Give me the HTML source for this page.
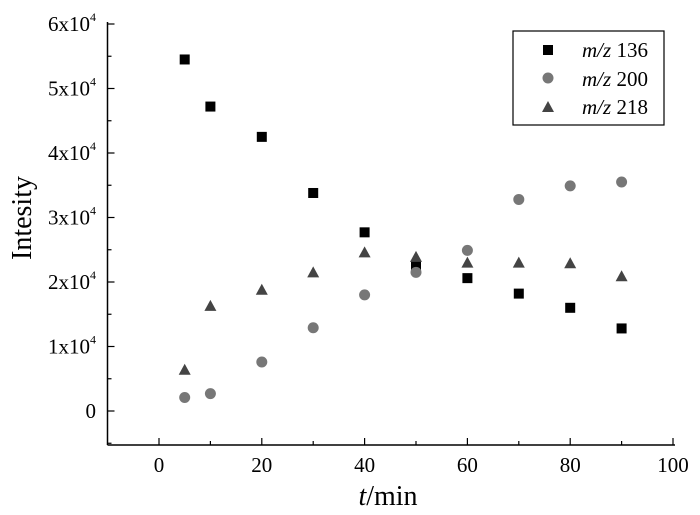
<!DOCTYPE html>
<html><head><meta charset="utf-8"><style>
body{margin:0;background:#fff}
svg{display:block;font-family:"Liberation Serif",serif}
</style></head><body>
<svg id="chart" width="700" height="515" viewBox="0 0 700 515">
<g id="axes"></g>
<g id="marks"></g>
<text x="31" y="218" font-size="28" text-anchor="middle" transform="rotate(-90 31 218)">Intesity</text>
<text x="388" y="505" font-size="28" text-anchor="middle"><tspan font-style="italic">t</tspan>/min</text>
<g>
<rect x="513" y="31" width="151" height="94" fill="#fff" stroke="#000" stroke-width="1.2"/>
<g><rect x="543" y="45" width="10" height="10" fill="#000"/><text x="582" y="57" font-size="21"><tspan font-style="italic">m/z</tspan> 136</text></g>
<g><circle cx="548" cy="78" r="5.5" fill="#777"/><text x="582" y="86" font-size="21"><tspan font-style="italic">m/z</tspan> 200</text></g>
<g><polygon points="548,101 554,112 542,112" fill="#444"/><text x="582" y="114" font-size="21"><tspan font-style="italic">m/z</tspan> 218</text></g>
</g>
</svg>
<script>
const xTimes=[5,10,20,30,40,50,60,70,80,90];
const mz136=[54.5,47.2,42.5,33.8,27.7,22.6,20.6,18.2,16.0,12.8];
const mz200=[2.1,2.7,7.6,12.9,18.0,21.5,24.9,32.8,34.9,35.5];
const mz218=[6.4,16.3,18.8,21.5,24.6,23.9,23.0,23.0,22.9,20.9];
const xTicks=[0,20,40,60,80,100];
const yTicks=[0,1,2,3,4,5,6];
const ns="http://www.w3.org/2000/svg";
const X=v=>159+v*5.14;
const Y=v=>411-v*6.45; // v in thousands
function mk(t,a,p){const e=document.createElementNS(ns,t);for(const k in a)e.setAttribute(k,a[k]);p.appendChild(e);return e;}
const ax=document.getElementById('axes'),mg=document.getElementById('marks');
const L=107.5,B=445,R=675;
mk('line',{x1:L,y1:22,x2:L,y2:B,stroke:'#000','stroke-width':1.5},ax);
mk('line',{x1:L,y1:B,x2:R,y2:B,stroke:'#000','stroke-width':1.5},ax);
for(let v=0;v<=100;v+=10){mk('line',{x1:X(v),x2:X(v),y1:B,y2:B-(v%20?4:7),stroke:'#000','stroke-width':1.2},ax);}
for(let k=-1;k<=12;k++){const y=Y(k*5);if(y>B-1)continue;mk('line',{x1:L,x2:L+(k%2?4:7),y1:y,y2:y,stroke:'#000','stroke-width':1.2},ax);}
xTicks.forEach(v=>{const t=mk('text',{x:X(v),y:472,'font-size':21,'text-anchor':'middle'},ax);t.textContent=v;

});
yTicks.forEach(v=>{const t=mk('text',{x:96,y:Y(v*10)+7,'font-size':21,'text-anchor':'end'},ax);


if(v===0){t.textContent='0';}else{t.textContent=v+'x10';const s=mk('tspan',{dy:-10,'font-size':12},t);s.textContent='4';}});
xTimes.forEach((t,i)=>{
const a=mk('rect',{x:X(t)-5,y:Y(mz136[i])-5,width:10,height:10,fill:'#000'},mg);


const b=mk('circle',{cx:X(t),cy:Y(mz200[i]),r:5.5,fill:'#777'},mg);


const x=X(t),y=Y(mz218[i]);
const c=mk('polygon',{points:`${x},${y-6} ${x+6},${y+5} ${x-6},${y+5}`,fill:'#444'},mg);


});
</script>
</body></html>
